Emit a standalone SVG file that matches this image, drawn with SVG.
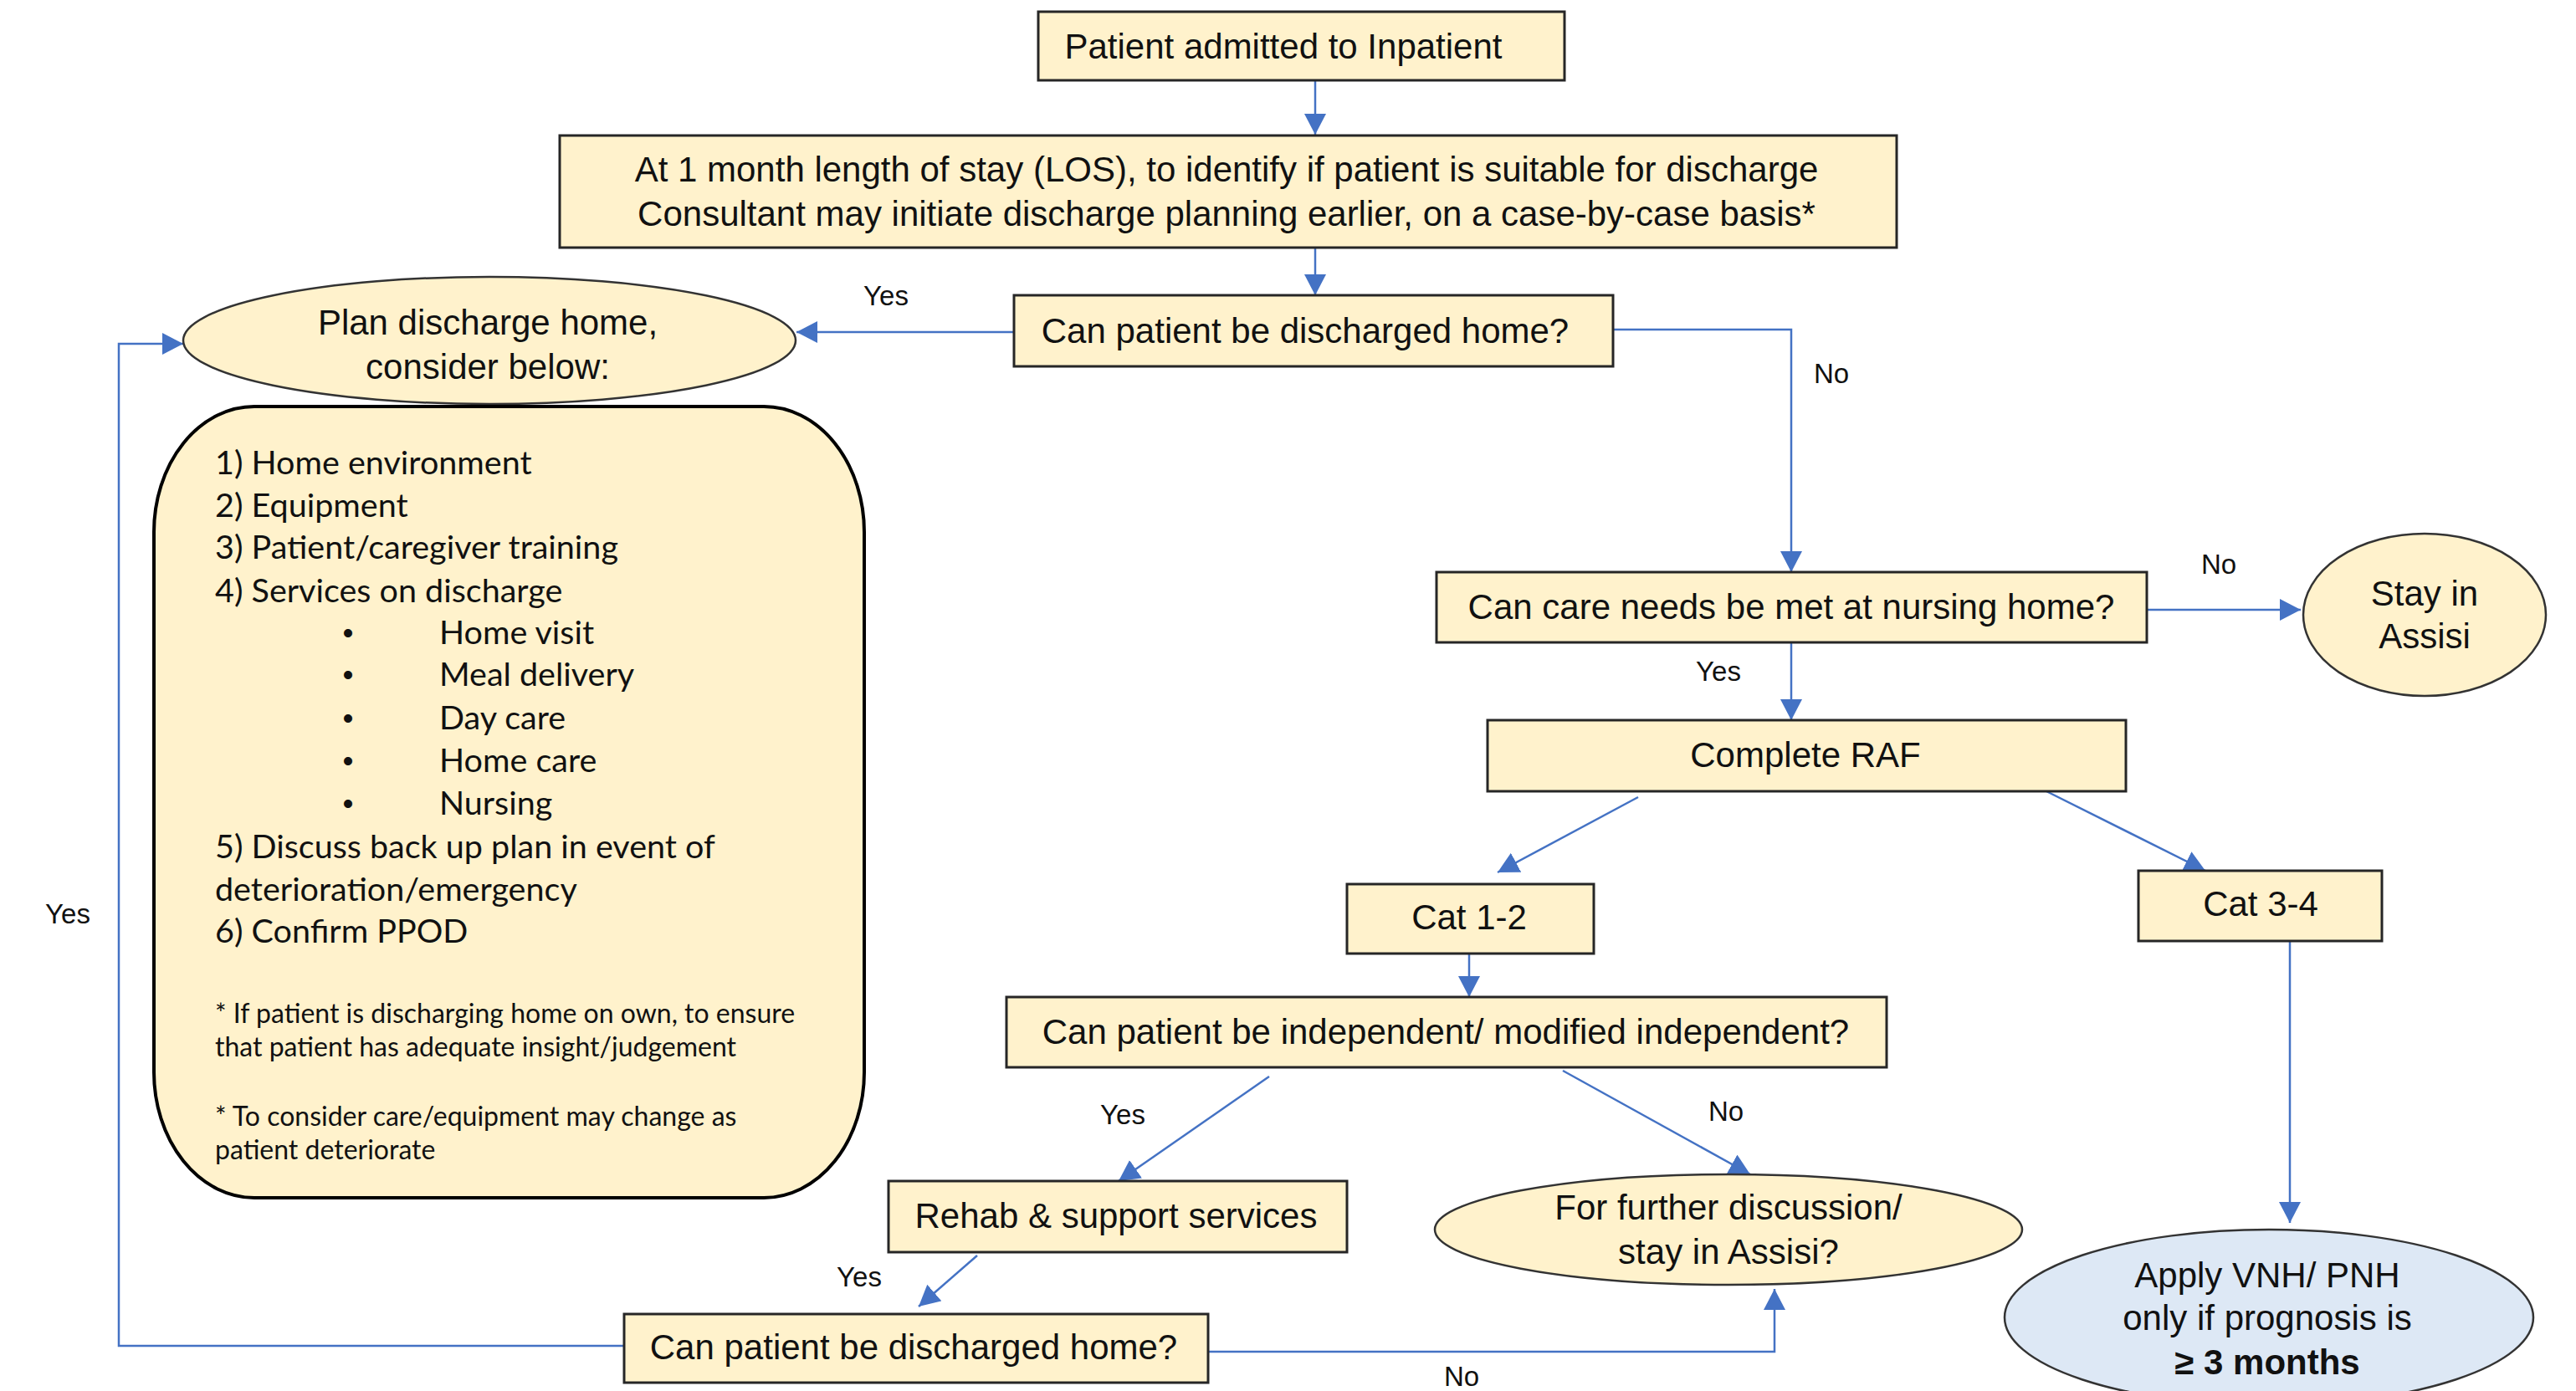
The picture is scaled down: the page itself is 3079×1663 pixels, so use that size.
<svg xmlns="http://www.w3.org/2000/svg" width="3079" height="1663" viewBox="0 0 3079 1663">
<defs>
<style>
.box{fill:#FFF2CC;stroke:#262626;stroke-width:3}
.ell{fill:#FFF2CC;stroke:#333;stroke-width:2.5}
.t{font-family:"Liberation Sans",Arial,sans-serif;font-size:42px;fill:#111;text-anchor:middle}
.lbl{font-family:"Liberation Sans",Arial,sans-serif;font-size:33px;fill:#111;text-anchor:middle}
.c{font-family:Lato,"Open Sans",sans-serif;font-size:39.5px;fill:#111}
.b{font-family:"Liberation Sans",Arial,sans-serif;font-size:37px;fill:#111;text-anchor:middle}
.f{font-family:Lato,"Open Sans",sans-serif;font-size:32px;fill:#111}
.ln{fill:none;stroke:#4472C4;stroke-width:2.5}
</style>
<marker id="ah" viewBox="0 0 25 26" refX="25" refY="13" markerWidth="25" markerHeight="26" markerUnits="userSpaceOnUse" orient="auto">
<path d="M0,0 L25,13 L0,26 z" fill="#4472C4"/>
</marker>
</defs>
<rect width="3079" height="1663" fill="#fff"/>

<g id="connectors">
<path class="ln" d="M1572,96 V161" marker-end="url(#ah)"/>
<path class="ln" d="M1572,296 V353" marker-end="url(#ah)"/>
<path class="ln" d="M1212,397 H952" marker-end="url(#ah)"/>
<path class="ln" d="M1928,394 H2141 V684" marker-end="url(#ah)"/>
<path class="ln" d="M2566,729 H2750" marker-end="url(#ah)"/>
<path class="ln" d="M2141,768 V861" marker-end="url(#ah)"/>
<path class="ln" d="M1958,953 L1790,1043" marker-end="url(#ah)"/>
<path class="ln" d="M2446,946 L2636,1041" marker-end="url(#ah)"/>
<path class="ln" d="M1756,1140 V1192" marker-end="url(#ah)"/>
<path class="ln" d="M2737,1125 V1462" marker-end="url(#ah)"/>
<path class="ln" d="M1517,1287 L1337,1412" marker-end="url(#ah)"/>
<path class="ln" d="M1868,1280 L2092,1404" marker-end="url(#ah)"/>
<path class="ln" d="M1168,1501 L1098,1562" marker-end="url(#ah)"/>
<path class="ln" d="M746,1609 H142 V411 H219" marker-end="url(#ah)"/>
<path class="ln" d="M1444,1616 H2121 V1541" marker-end="url(#ah)"/>
<text class="lbl" x="1059" y="365">Yes</text>
<text class="lbl" x="2189" y="458">No</text>
<text class="lbl" x="2652" y="686">No</text>
<text class="lbl" x="2054" y="814">Yes</text>
<text class="lbl" x="81" y="1104">Yes</text>
<text class="lbl" x="1342" y="1344">Yes</text>
<text class="lbl" x="2063" y="1340">No</text>
<text class="lbl" x="1027" y="1538">Yes</text>
<text class="lbl" x="1747" y="1657">No</text>
</g>

<g id="admitted">
<rect class="box" x="1241" y="14" width="629" height="82"/>
<text class="t" x="1534" y="70">Patient admitted to Inpatient</text>
</g>

<g id="los">
<rect class="box" x="669" y="162" width="1598" height="134"/>
<text class="t" x="1466" y="217">At 1 month length of stay (LOS), to identify if patient is suitable for discharge</text>
<text class="t" x="1466" y="270">Consultant may initiate discharge planning earlier, on a case-by-case basis*</text>
</g>

<g id="discharge1">
<rect class="box" x="1212" y="353" width="716" height="85"/>
<text class="t" x="1560" y="410">Can patient be discharged home?</text>
</g>

<g id="plan">
<ellipse class="ell" cx="585" cy="407" rx="366" ry="76"/>
<text class="t" x="583" y="400">Plan discharge home,</text>
<text class="t" x="583" y="453">consider below:</text>
</g>

<g id="checklist">
<rect x="184" y="486" width="849" height="946" rx="120" ry="150" fill="#FFF2CC" stroke="#000" stroke-width="4"/>
<text class="c" x="257" y="567">1) Home environment</text>
<text class="c" x="257" y="618">2) Equipment</text>
<text class="c" x="257" y="668">3) Patient/caregiver training</text>
<text class="c" x="257" y="720">4) Services on discharge</text>
<text class="b" x="416" y="769">•</text><text class="c" x="525" y="770">Home visit</text>
<text class="b" x="416" y="819">•</text><text class="c" x="525" y="820">Meal delivery</text>
<text class="b" x="416" y="871">•</text><text class="c" x="525" y="872">Day care</text>
<text class="b" x="416" y="922">•</text><text class="c" x="525" y="923">Home care</text>
<text class="b" x="416" y="973">•</text><text class="c" x="525" y="974">Nursing</text>
<text class="c" x="257" y="1026">5) Discuss back up plan in event of</text>
<text class="c" x="257" y="1077">deterioration/emergency</text>
<text class="c" x="257" y="1127">6) Confirm PPOD</text>
<text class="f" x="257" y="1223">* If patient is discharging home on own, to ensure</text>
<text class="f" x="257" y="1263">that patient has adequate insight/judgement</text>
<text class="f" x="257" y="1346">* To consider care/equipment may change as</text>
<text class="f" x="257" y="1386">patient deteriorate</text>
</g>

<g id="nursinghome">
<rect class="box" x="1717" y="684" width="849" height="84"/>
<text class="t" x="2141" y="740">Can care needs be met at nursing home?</text>
</g>

<g id="stay">
<ellipse class="ell" cx="2898" cy="735" rx="145" ry="97"/>
<text class="t" x="2898" y="724">Stay in</text>
<text class="t" x="2898" y="775">Assisi</text>
</g>

<g id="raf">
<rect class="box" x="1778" y="861" width="763" height="85"/>
<text class="t" x="2158" y="917">Complete RAF</text>
</g>

<g id="cat12">
<rect class="box" x="1610" y="1057" width="295" height="83"/>
<text class="t" x="1756" y="1111">Cat 1-2</text>
</g>

<g id="cat34">
<rect class="box" x="2556" y="1041" width="291" height="84"/>
<text class="t" x="2702" y="1095">Cat 3-4</text>
</g>

<g id="independent">
<rect class="box" x="1203" y="1192" width="1052" height="84"/>
<text class="t" x="1728" y="1248">Can patient be independent/ modified independent?</text>
</g>

<g id="rehab">
<rect class="box" x="1062" y="1412" width="548" height="85"/>
<text class="t" x="1334" y="1468">Rehab &amp; support services</text>
</g>

<g id="further">
<ellipse class="ell" cx="2066" cy="1470" rx="351" ry="66"/>
<text class="t" x="2066" y="1458">For further discussion/</text>
<text class="t" x="2066" y="1511">stay in Assisi?</text>
</g>

<g id="discharge2">
<rect class="box" x="746" y="1571" width="698" height="82"/>
<text class="t" x="1092" y="1625">Can patient be discharged home?</text>
</g>

<g id="vnh">
<ellipse cx="2712" cy="1575" rx="316" ry="105" fill="#DDE8F5" stroke="#333" stroke-width="2.5"/>
<text class="t" x="2710" y="1539">Apply VNH/ PNH</text>
<text class="t" x="2710" y="1590">only if prognosis is</text>
<text class="t" x="2710" y="1643" font-weight="bold">≥ 3 months</text>
</g>
</svg>
